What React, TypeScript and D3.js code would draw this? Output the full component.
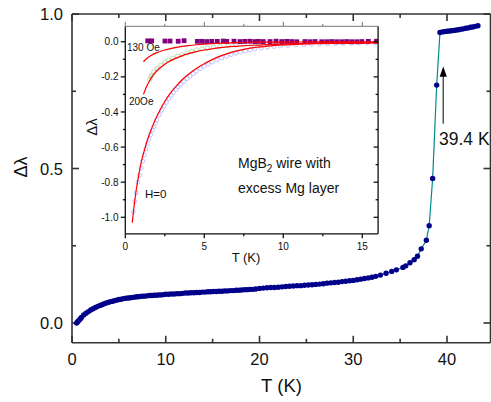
import React from "react";
import * as d3 from "d3";

// Main curve: penetration depth change vs temperature
const mainT = [
  0.5, 0.6, 0.75, 0.9, 1.0, 1.25, 1.5, 1.75, 2.0, 2.25, 2.5, 2.75, 3.0, 3.25, 3.5, 3.75,
  4.0, 4.25, 4.5, 4.75, 5.0, 5.25, 5.5, 5.75, 6.0, 6.25, 6.5, 6.75, 7.0, 7.25, 7.5, 7.75,
  8.0, 8.25, 8.5, 8.75, 9.0, 9.25, 9.5, 9.75, 10.0, 10.3, 10.6, 10.9, 11.2, 11.5, 11.8,
  12.1, 12.4, 12.7, 13.0, 13.3, 13.6, 13.9, 14.2, 14.5, 14.8, 15.1, 15.4, 15.7, 16.0,
  16.3, 16.6, 16.9, 17.2, 17.5, 17.8, 18.1, 18.4, 18.7, 19.0, 19.3, 19.6, 20.0, 20.4,
  20.8, 21.2, 21.6, 22.0, 22.4, 22.8, 23.2, 23.6, 24.0, 24.4, 24.8, 25.2, 25.6, 26.0,
  26.4, 26.8, 27.2, 27.6, 28.0, 28.4, 28.8, 29.2, 29.6, 30.0, 30.4, 30.8, 31.2, 31.6,
  32.0, 32.4, 32.9, 33.5, 34.1, 34.6, 35.3, 35.6, 36.05, 36.5, 36.85, 37.25, 37.8, 38.1,
  38.47, 38.9, 39.25, 39.5, 39.75, 40.0, 40.25, 40.5, 40.75, 41.0, 41.25, 41.5, 41.75,
  42.0, 42.25, 42.5, 42.75, 43.0, 43.3,
];
const mainDL = [
  0.0, 0.004, 0.009, 0.014, 0.018, 0.026, 0.032, 0.037, 0.042, 0.046, 0.05, 0.054, 0.057,
  0.06, 0.063, 0.066, 0.068, 0.07, 0.072, 0.074, 0.076, 0.077, 0.079, 0.08, 0.081, 0.082,
  0.083, 0.084, 0.085, 0.086, 0.087, 0.087, 0.088, 0.089, 0.089, 0.09, 0.09, 0.091, 0.091,
  0.092, 0.093, 0.093, 0.094, 0.094, 0.095, 0.095, 0.096, 0.097, 0.097, 0.098, 0.098,
  0.099, 0.099, 0.1, 0.1, 0.101, 0.101, 0.102, 0.102, 0.103, 0.103, 0.104, 0.104, 0.105,
  0.105, 0.106, 0.106, 0.107, 0.108, 0.108, 0.109, 0.109, 0.11, 0.112, 0.113, 0.114, 0.115,
  0.115, 0.116, 0.117, 0.118, 0.119, 0.12, 0.121, 0.121, 0.122, 0.123, 0.124, 0.125, 0.126,
  0.127, 0.129, 0.13, 0.131, 0.132, 0.134, 0.135, 0.137, 0.138, 0.14, 0.142, 0.144, 0.146,
  0.148, 0.151, 0.155, 0.161, 0.167, 0.172, 0.18, 0.185, 0.195, 0.205, 0.216, 0.24, 0.268,
  0.315, 0.468, 0.77, 0.94, 0.942, 0.943, 0.944, 0.945, 0.946, 0.947, 0.948, 0.949, 0.951,
  0.952, 0.954, 0.955, 0.957, 0.958, 0.96, 0.962,
];

// Inset: low-temperature Δλ for several fields
const fitH0: [number, number][] = [
  [0.44, -1.03], [0.55, -0.94], [0.7, -0.84], [0.85, -0.76], [1.0, -0.69], [1.2, -0.62],
  [1.4, -0.56], [1.6, -0.51], [1.8, -0.465], [2.0, -0.425], [2.25, -0.38], [2.5, -0.34],
  [2.75, -0.305], [3.0, -0.275], [3.25, -0.25], [3.5, -0.225], [4.0, -0.185], [4.5, -0.152],
  [5.0, -0.125], [5.5, -0.102], [6.0, -0.082], [6.5, -0.066], [7.0, -0.053], [7.5, -0.043],
  [8.0, -0.035], [9.0, -0.025], [10.0, -0.018], [11, -0.014], [12, -0.011], [13, -0.009],
  [14, -0.007], [15, -0.006], [16, -0.005],
];
const pointsH0: [number, number][] = [
  [0.5, -0.97], [0.6, -0.91], [0.7, -0.86], [0.8, -0.8], [0.9, -0.76], [1.0, -0.72],
  [1.1, -0.68], [1.2, -0.645], [1.3, -0.61], [1.4, -0.58], [1.5, -0.555], [1.6, -0.53],
  [1.7, -0.505], [1.8, -0.485], [1.9, -0.465], [2.0, -0.445], [2.15, -0.415], [2.3, -0.39],
  [2.45, -0.365], [2.6, -0.345], [2.75, -0.325], [2.9, -0.305], [3.05, -0.288], [3.2, -0.272],
  [3.35, -0.257], [3.5, -0.243], [3.7, -0.226], [3.9, -0.21], [4.1, -0.195], [4.3, -0.181],
  [4.5, -0.168], [4.75, -0.153], [5.0, -0.139], [5.25, -0.127], [5.5, -0.115], [5.8, -0.103],
  [6.1, -0.092], [6.4, -0.082], [6.7, -0.073], [7.0, -0.065], [7.3, -0.058], [7.6, -0.052],
  [7.9, -0.046], [8.2, -0.041], [8.6, -0.036], [9.0, -0.031], [9.4, -0.027], [9.8, -0.024],
  [10.3, -0.021], [10.8, -0.018], [11.3, -0.016], [11.8, -0.014], [12.3, -0.012], [12.8, -0.011],
  [13.3, -0.01], [13.8, -0.009], [14.3, -0.008], [14.8, -0.007], [15.3, -0.007], [15.8, -0.006],
];
const fit20: [number, number][] = [
  [1.15, -0.3], [1.3, -0.265], [1.5, -0.228], [1.75, -0.192], [2.0, -0.165], [2.25, -0.145],
  [2.5, -0.128], [2.75, -0.114], [3.0, -0.102], [3.5, -0.083], [4.0, -0.068], [4.5, -0.056],
  [5.0, -0.047], [5.5, -0.04], [6.0, -0.034], [7.0, -0.026], [8.0, -0.02], [9.0, -0.016],
  [10, -0.013], [11, -0.011], [12, -0.009], [13, -0.008], [14, -0.007], [15, -0.006], [16, -0.006],
];
const points20: [number, number][] = [
  [1.55, -0.215], [1.62, -0.2], [1.68, -0.19], [1.8, -0.172], [2.0, -0.153], [2.25, -0.133],
  [2.5, -0.116], [2.75, -0.104], [3.0, -0.094], [3.3, -0.083], [3.6, -0.073], [3.9, -0.064],
  [4.2, -0.055], [4.5, -0.046], [4.85, -0.04], [5.2, -0.035], [5.6, -0.03], [6.0, -0.026],
  [6.5, -0.022], [7.0, -0.019], [7.5, -0.016], [8, -0.014], [8.5, -0.012], [9, -0.011],
  [9.5, -0.01], [10, -0.009],
];
const fit130: [number, number][] = [
  [1.15, -0.114], [1.3, -0.1], [1.5, -0.086], [1.75, -0.072], [2.0, -0.062], [2.25, -0.054],
  [2.5, -0.047], [3.0, -0.036], [3.5, -0.028], [4.0, -0.022], [4.5, -0.017], [5.0, -0.013],
  [6, -0.008], [7, -0.005], [8, -0.003], [10, -0.002], [12, -0.001], [14, 0], [16, 0],
];
const points130: [number, number][] = [
  [1.42, 0.005], [1.67, 0.005], [2.51, 0.004], [2.83, 0.004], [3.35, 0.003], [3.72, 0.006],
  [4.56, 0.002], [4.84, 0.002], [5.15, 0.001], [5.47, 0.002], [5.82, 0.002], [6.2, 0.004],
  [6.42, 0.002], [6.88, 0.003], [7.26, 0.001], [7.57, 0.002], [7.89, 0.003], [8.2, 0.001],
  [8.42, 0.002], [8.73, 0.001], [9.16, 0.001], [9.54, 0.003], [9.9, 0.001], [10.22, 0.002],
  [10.53, 0.001], [10.85, 0.0], [11.37, 0.001], [11.69, 0.0], [12.01, 0.001], [12.43, 0],
  [12.75, 0], [13.06, 0.001], [13.38, 0], [13.7, 0], [14.01, 0.001], [14.33, 0], [14.65, 0],
  [14.97, 0.001], [15.38, 0.002], [15.9, 0.003],
];

const mainXTicks = [0, 10, 20, 30, 40];
const mainXMinor = [5, 15, 25, 35];
const mainYTicks = [0, 0.5, 1.0];
const mainYMinor = [0.25, 0.75];
const insetXTicks = [0, 5, 10, 15];
const insetXMinor = [2.5, 7.5, 12.5];
const insetYTicks = [0, -0.2, -0.4, -0.6, -0.8, -1.0];
const insetYMinor = [-0.1, -0.3, -0.5, -0.7, -0.9];

const FONT = "'Liberation Sans', Arial, Helvetica, sans-serif";
const AX = "#333";

export default function App() {
  // main frame
  const x = d3.scaleLinear().domain([0, 44.64]).range([72, 490.5]);
  const y = d3.scaleLinear().domain([-0.064, 1.0]).range([342.8, 14]);
  // inset frame
  const ix = d3.scaleLinear().domain([0, 16]).range([125.3, 378.1]);
  const iy = d3.scaleLinear().domain([-1.094, 0.088]).range([233.8, 26.3]);

  const mainPts = mainT.map((t, i) => [t, mainDL[i]] as [number, number]);
  const mainLine = d3
    .line<[number, number]>()
    .x((d) => x(d[0]))
    .y((d) => y(d[1]));
  const insetLine = d3
    .line<[number, number]>()
    .x((d) => ix(d[0]))
    .y((d) => iy(d[1]))
    .curve(d3.curveMonotoneX);

  const [x0, x1] = x.range();
  const [y0, y1] = y.range();
  const [ix0, ix1] = ix.range();
  const [iy0, iy1] = iy.range();

  return (
    <svg
      width={491}
      height={402}
      style={{ position: "absolute", left: 0, top: 0, background: "#fff" }}
      fontFamily={FONT}
    >
      <defs>
        <clipPath id="insetClip">
          <rect x={ix0} y={iy1} width={ix1 - ix0} height={iy0 - iy1} />
        </clipPath>
      </defs>
      <rect width={491} height={402} fill="#fff" />

      {/* main axes frame */}
      <g stroke={AX} strokeWidth={1.6} fill="none">
        <line x1={x0} y1={y0} x2={x1} y2={y0} />
        <line x1={x0} y1={y1} x2={x1} y2={y1} />
        <line x1={x0} y1={y0} x2={x0} y2={y1} />
        <line x1={x1} y1={y0} x2={x1} y2={y1} />
        {mainXTicks.map((t) => (
          <g key={"mx" + t}>
            <line x1={x(t)} x2={x(t)} y1={y0} y2={y0 - 7} />
            <line x1={x(t)} x2={x(t)} y1={y1} y2={y1 + 7} />
          </g>
        ))}
        {mainXMinor.map((t) => (
          <g key={"mxm" + t}>
            <line x1={x(t)} x2={x(t)} y1={y0} y2={y0 - 4} />
            <line x1={x(t)} x2={x(t)} y1={y1} y2={y1 + 4} />
          </g>
        ))}
        {mainYTicks.map((v) => (
          <g key={"my" + v}>
            <line x1={x0} x2={x0 + 7} y1={y(v)} y2={y(v)} />
            <line x1={x1} x2={x1 - 7} y1={y(v)} y2={y(v)} />
          </g>
        ))}
        {mainYMinor.map((v) => (
          <g key={"mym" + v}>
            <line x1={x0} x2={x0 + 4} y1={y(v)} y2={y(v)} />
            <line x1={x1} x2={x1 - 4} y1={y(v)} y2={y(v)} />
          </g>
        ))}
      </g>
      <g fontSize={16.5} fill="#111">
        {mainXTicks.map((t) => (
          <text key={"mxl" + t} x={x(t)} y={365} textAnchor="middle">
            {t}
          </text>
        ))}
        {mainYTicks.map((v) => (
          <text key={"myl" + v} x={63} y={y(v) + 6} textAnchor="end">
            {v.toFixed(1)}
          </text>
        ))}
      </g>
      <text x={281.5} y={392} fontSize={18.5} textAnchor="middle" fill="#111">
        T (K)
      </text>
      <text
        transform="translate(27,167) rotate(-90)"
        fontSize={18}
        textAnchor="middle"
        fill="#111"
      >
        Δλ
      </text>

      {/* main data */}
      <path d={mainLine(mainPts) || ""} fill="none" stroke="#008b8b" strokeWidth={1.2} />
      <g fill="#00008b">
        {mainPts.map((d, i) => (
          <circle key={"mp" + i} cx={x(d[0])} cy={y(d[1])} r={2.7} />
        ))}
      </g>

      {/* Tc arrow and label */}
      <line x1={x(39.6)} x2={x(39.6)} y1={y(0.645)} y2={y(0.8)} stroke="#555" strokeWidth={1.5} />
      <path
        d={`M${x(39.6)},${y(0.83)} L${x(39.6) - 3.6},${y(0.8) + 1} L${x(39.6) + 3.6},${y(0.8) + 1} Z`}
        fill="#000"
      />
      <text x={439} y={145} fontSize={17.5} fill="#111">
        39.4 K
      </text>

      {/* inset */}
      <rect x={ix0} y={iy1} width={ix1 - ix0} height={iy0 - iy1} fill="#fff" />
      <g clipPath="url(#insetClip)">
        <g fill="none" stroke="#a8b0ff" strokeWidth={1} opacity={0.75}>
          {pointsH0.map((d, i) => (
            <circle key={"b" + i} cx={ix(d[0])} cy={iy(d[1])} r={2} />
          ))}
        </g>
        <g fill="none" stroke="#a9d8a9" strokeWidth={0.9}>
          {points20.map((d, i) => (
            <circle key={"g" + i} cx={ix(d[0])} cy={iy(d[1])} r={2.1} />
          ))}
        </g>
        <g fill="#800080">
          {points130.map((d, i) => (
            <rect key={"s" + i} x={ix(d[0]) - 2.4} y={iy(d[1]) - 2.4} width={4.8} height={4.8} />
          ))}
        </g>
        <g fill="none" stroke="#ff0000" strokeWidth={1.2}>
          <path d={insetLine(fitH0) || ""} />
          <path d={insetLine(fit20) || ""} />
          <path d={insetLine(fit130) || ""} />
        </g>
      </g>
      <g stroke="#111" strokeWidth={1.3} fill="none">
        <line x1={ix0} y1={iy0} x2={ix1} y2={iy0} />
        <line x1={ix0} y1={iy0} x2={ix0} y2={iy1} />
        <line x1={ix1} y1={iy0} x2={ix1} y2={iy1} />
        {insetXTicks.map((t) => (
          <line key={"ix" + t} x1={ix(t)} x2={ix(t)} y1={iy0} y2={iy0 + 4.5} />
        ))}
        {insetXMinor.map((t) => (
          <line key={"ixm" + t} x1={ix(t)} x2={ix(t)} y1={iy0} y2={iy0 + 2.5} />
        ))}
        {insetYTicks.map((v) => (
          <g key={"iy" + v}>
            <line x1={ix0} x2={ix0 - 4.5} y1={iy(v)} y2={iy(v)} />
            <line x1={ix1} x2={ix1 - 4.5} y1={iy(v)} y2={iy(v)} />
          </g>
        ))}
        {insetYMinor.map((v) => (
          <g key={"iym" + v}>
            <line x1={ix0} x2={ix0 - 2.5} y1={iy(v)} y2={iy(v)} />
            <line x1={ix1} x2={ix1 - 2.5} y1={iy(v)} y2={iy(v)} />
          </g>
        ))}
      </g>
      <g stroke="#777" strokeWidth={1} fill="none">
        <line x1={ix0} y1={iy1} x2={ix1} y2={iy1} />
        {insetXTicks.map((t) => (
          <line key={"ixt" + t} x1={ix(t)} x2={ix(t)} y1={iy1} y2={iy1 - 4.5} />
        ))}
        {insetXMinor.map((t) => (
          <line key={"ixtm" + t} x1={ix(t)} x2={ix(t)} y1={iy1} y2={iy1 - 2.5} />
        ))}
      </g>
      <g fontSize={10} fill="#111">
        {insetXTicks.map((t) => (
          <text key={"ixl" + t} x={ix(t)} y={249.5} textAnchor="middle">
            {t}
          </text>
        ))}
        {insetYTicks.map((v) => (
          <text key={"iyl" + v} x={118.5} y={iy(v) + 3.6} textAnchor="end">
            {v === 0 ? "0.0" : v.toFixed(1)}
          </text>
        ))}
      </g>
      <text x={246} y={262} fontSize={13} textAnchor="middle" fill="#111">
        T (K)
      </text>
      <text
        transform="translate(97,127) rotate(-90)"
        fontSize={15}
        textAnchor="middle"
        fill="#111"
      >
        Δλ
      </text>
      <text x={127} y={50.5} fontSize={10} fill="#111">
        130 Oe
      </text>
      <text x={129} y={105} fontSize={10} fill="#111">
        20Oe
      </text>
      <text x={145} y={197.5} fontSize={11.5} fill="#111">
        H=0
      </text>
      <text x={238} y={168} fontSize={14} fill="#111">
        MgB<tspan fontSize={10} dy={4}>2</tspan>
        <tspan dy={-4}> wire with</tspan>
      </text>
      <text x={238} y={193} fontSize={14} fill="#111">
        excess Mg layer
      </text>
    </svg>
  );
}
